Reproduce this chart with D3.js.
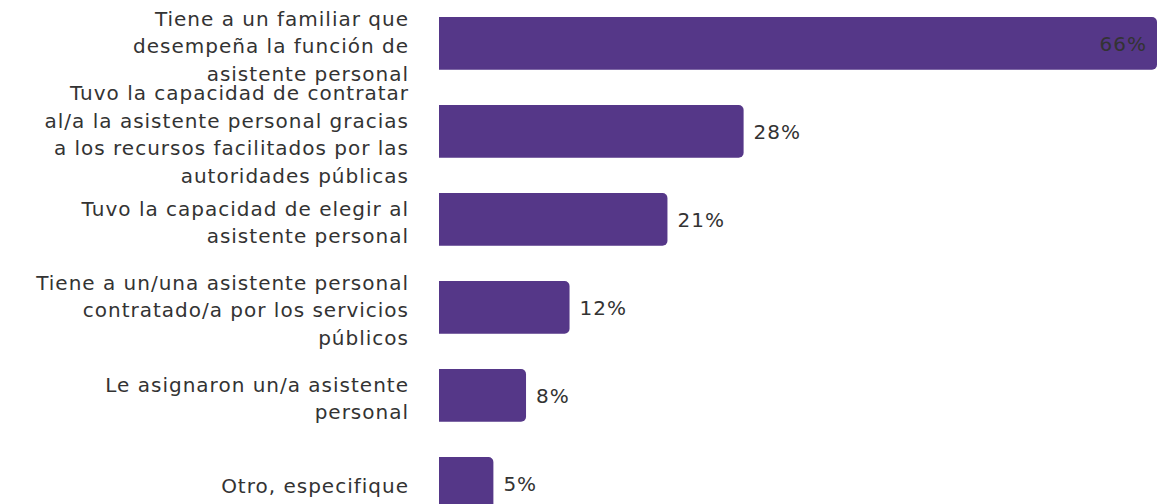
<!DOCTYPE html>
<html>
<head>
<meta charset="utf-8">
<script src="https://cdn.jsdelivr.net/npm/d3@7"></script>
<style>
  html, body { margin: 0; padding: 0; background: #fff; }
  svg { display: block; }
  text { font-family: "DejaVu Sans", Verdana, sans-serif; letter-spacing: 1px; }
</style>
</head>
<body>
<svg id="chart" width="1173" height="504"></svg>
<script>
// Answer categories (line breaks mark how each label wraps)
const categories = [
  "Tiene a un familiar que\ndesempeña la función de\nasistente personal",
  "Tuvo la capacidad de contratar\nal/a la asistente personal gracias\na los recursos facilitados por las\nautoridades públicas",
  "Tuvo la capacidad de elegir al\nasistente personal",
  "Tiene a un/una asistente personal\ncontratado/a por los servicios\npúblicos",
  "Le asignaron un/a asistente\npersonal",
  "Otro, especifique"
];
// Share of respondents, in percent
const values = [66, 28, 21, 12, 8, 5];

const left = 439, right = 1157;
const barColor = "#553788";
const textColor = "#333333";
const fontSize = 20;
const lineH = 27.5;

const svg = d3.select("#chart");

const x = d3.scaleLinear().domain([0, d3.max(values)]).range([left, right]);
const y = d3.scaleBand().domain(d3.range(categories.length))
  .range([-0.6, 527.4]).paddingInner(0.4).paddingOuter(0.2);

const rows = svg.selectAll("g.row").data(values).join("g").attr("class", "row");

// Bars: square on the left, rounded on the right
const r = 5;
rows.append("path")
  .attr("fill", barColor)
  .attr("d", (d, i) => {
    const x0 = x(0), x1 = x(d), y0 = y(i), h = y.bandwidth();
    return `M${x0},${y0}H${x1 - r}A${r},${r} 0 0 1 ${x1},${y0 + r}` +
           `V${y0 + h - r}A${r},${r} 0 0 1 ${x1 - r},${y0 + h}H${x0}Z`;
  });

// Category labels, right-aligned and centred on each bar
rows.each(function (d, i) {
  const lines = categories[i].split("\n");
  const cy = y(i) + y.bandwidth() / 2;
  const t = d3.select(this).append("text")
    .attr("text-anchor", "end")
    .attr("fill", textColor)
    .attr("font-size", fontSize);
  lines.forEach((ln, k) => {
    t.append("tspan")
      .attr("x", 409)
      .attr("y", cy + (k - (lines.length - 1) / 2) * lineH + 3)
      .attr("dy", "0.35em")
      .text(ln);
  });
});

// Value labels: inside the longest bar, after the end otherwise
const maxV = d3.max(values);
rows.append("text")
  .attr("font-size", fontSize)
  .attr("fill", textColor)
  .attr("dy", "0.35em")
  .attr("y", (d, i) => y(i) + y.bandwidth() / 2 + 1)
  .attr("x", d => d === maxV ? x(d) - 10 : x(d) + 10)
  .attr("text-anchor", d => d === maxV ? "end" : "start")
  .text(d => d + "%");
</script>
</body>
</html>
